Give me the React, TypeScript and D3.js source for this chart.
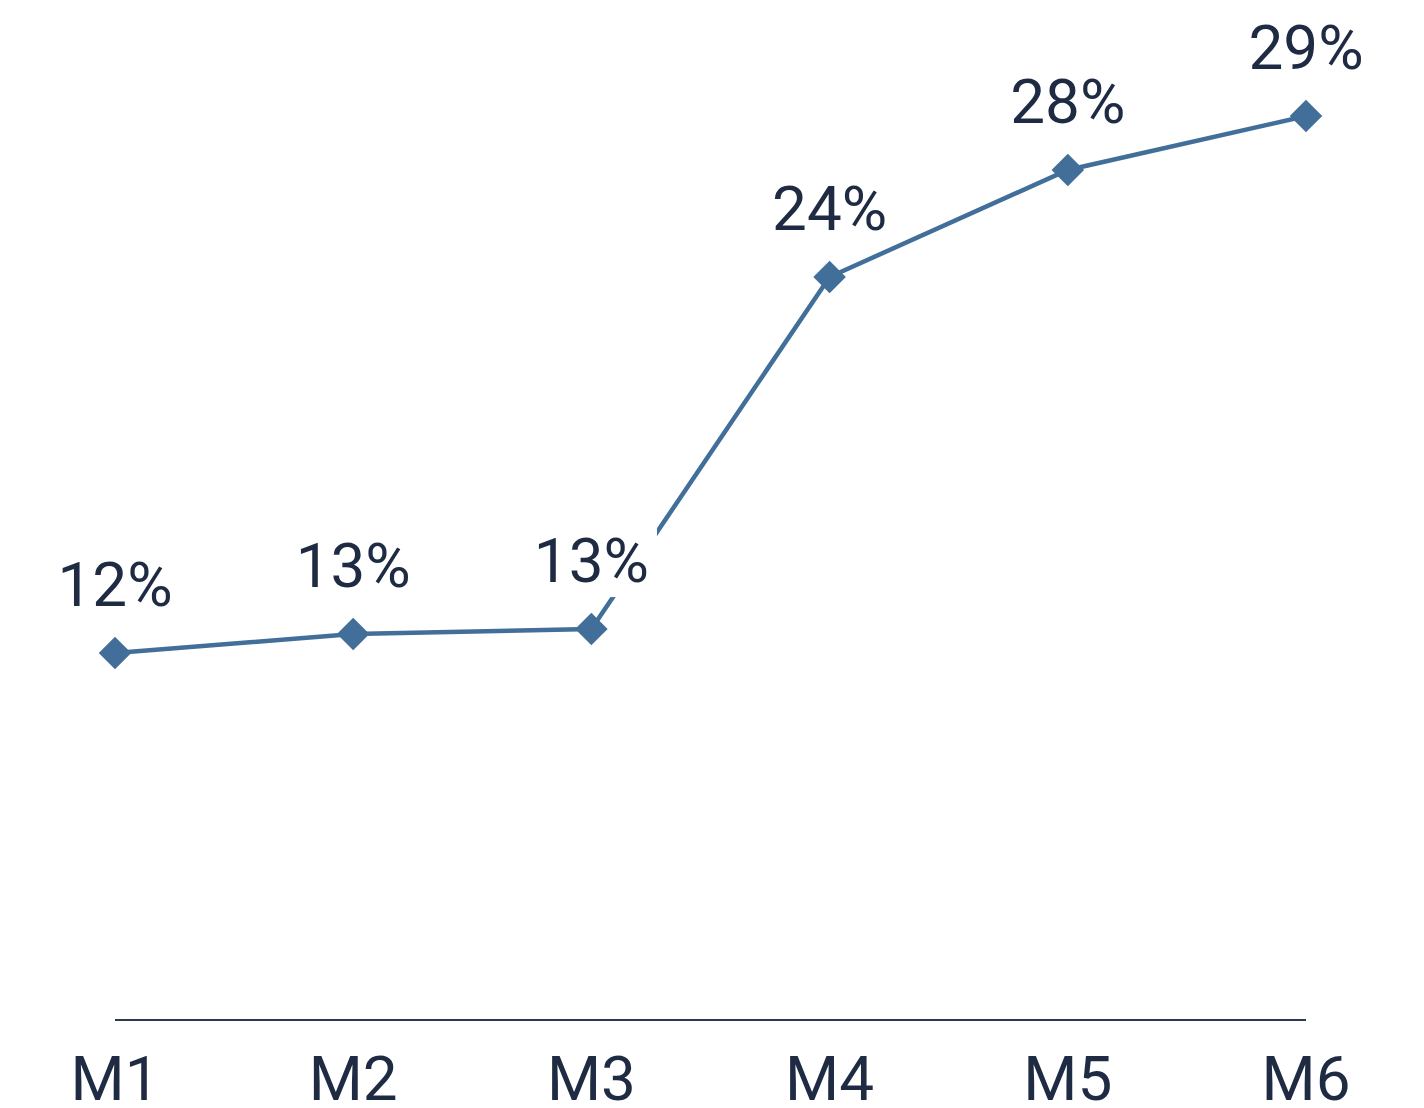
import { useEffect, useRef } from "react";
import * as d3 from "d3";

const months = ["M1", "M2", "M3", "M4", "M5", "M6"];
const rates = [11.84, 12.45, 12.61, 23.97, 27.42, 29.16];
const rateLabels = ["12%", "13%", "13%", "24%", "28%", "29%"];

const W = 1424;
const H = 1108;
const LINE = "#426f99";
const INK = "#1e2b42";

export default function App() {
  const svgRef = useRef<SVGSVGElement>(null);

  useEffect(() => {
    if (!svgRef.current) return;
    const svg = d3.select(svgRef.current);
    svg.selectAll("*").remove();

    const x = d3.scalePoint<string>().domain(months).range([115, 1306]);
    const y = d3.scaleLinear().domain([0, 33]).range([1020, -3]);

    const pts = months.map((m, i) => ({ m, v: rates[i], label: rateLabels[i] }));

    // baseline axis
    svg
      .append("line")
      .attr("x1", x("M1")!)
      .attr("x2", x("M6")!)
      .attr("y1", y(0))
      .attr("y2", y(0))
      .attr("stroke", "#2b3a50")
      .attr("stroke-width", 2);

    svg
      .selectAll(".tick")
      .data(months)
      .join("text")
      .attr("x", (d) => x(d)!)
      .attr("y", 1100)
      .attr("text-anchor", "middle")
      .attr("font-family", "Roboto")
      .attr("font-size", 62)
      .attr("fill", INK)
      .text((d) => d);

    const line = d3
      .line<(typeof pts)[number]>()
      .x((d) => x(d.m)!)
      .y((d) => y(d.v));

    svg
      .append("path")
      .datum(pts)
      .attr("d", line)
      .attr("fill", "none")
      .attr("stroke", LINE)
      .attr("stroke-width", 4.5);

    svg
      .selectAll(".pt")
      .data(pts)
      .join("path")
      .attr("d", d3.symbol(d3.symbolSquare, 23 * 23)())
      .attr("transform", (d) => `translate(${x(d.m)},${y(d.v)}) rotate(45)`)
      .attr("fill", LINE);

    // value labels with white backing
    const labels = svg
      .selectAll(".lbl")
      .data(pts)
      .join("g")
      .attr("transform", (d) => `translate(${x(d.m)},${y(d.v) - 47})`);

    const bg = labels.append("rect").attr("fill", "#ffffff");
    const txt = labels
      .append("text")
      .attr("text-anchor", "middle")
      .attr("font-family", "Roboto")
      .attr("font-size", 62)
      .attr("fill", INK)
      .text((d) => d.label);

    txt.each(function (_, i) {
      const b = (this as SVGTextElement).getBBox();
      d3.select(bg.nodes()[i])
        .attr("x", b.x - 8)
        .attr("y", b.y + 4)
        .attr("width", b.width + 16)
        .attr("height", b.height - 4);
    });
  }, []);

  return (
    <svg
      ref={svgRef}
      width={W}
      height={H}
      style={{ position: "absolute", left: 0, top: 0, display: "block", background: "#fff" }}
    />
  );
}
